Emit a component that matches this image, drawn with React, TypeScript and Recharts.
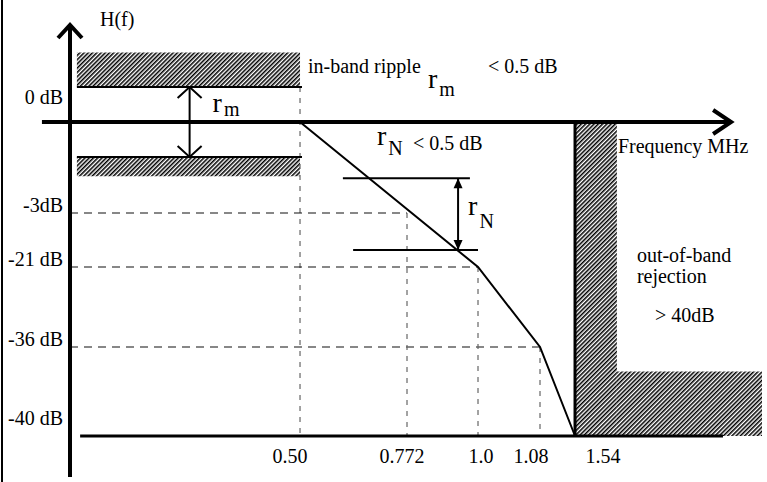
import { ComposedChart, Line, XAxis, YAxis, ReferenceArea, ReferenceLine, ReferenceDot } from 'recharts'

// frequency axis, MHz (the drawing is not to scale)
const freqTicks = [0.5, 0.772, 1.0, 1.08, 1.54]
const freqLabels = ['0.50', '0.772', '1.0', '1.08', '1.54']

// attenuation axis, dB (not to scale either)
const dbTicks = [0, -3, -21, -36, -40]
const dbLabels = ['0 dB', '-3dB', '-21 dB', '-36 dB', '-40 dB']

// corners of the filter response
const respFreq = [0.5, 1.0, 1.08, 1.54]
const respDb = [0, -21, -36, -40]

// dashed guides down from the roll-off
const kneeFreq = [0.772, 1.0, 1.08]
const kneeDb = [-3, -21, -36]

// in-band ripple mask (r_m)
const passEdge = 0.5
const rippleTop = 0.25
const rippleBottom = -0.25
const maskTop = 0.5
const maskBottom = -1.2

// r_N limits on the slope
const rnDb = [-1.3, -15.3]
const rnFrom = [0.609, 0.635]
const rnTo = [0.974, 1.0]
const rnArrowAt = 0.936

// stop band
const stopEdge = 1.54
const stopWall = 1.643
const stopShelf = -37.1
const stopFloor = -40

// where the labelled values sit along each axis (0 = plot start, 1 = plot end)
const X_STOPS = [0, 0.5, 0.772, 1.0, 1.08, 1.54, 2.0]
const X_POS = [0, 0.3324, 0.487, 0.5896, 0.6792, 0.7298, 1]
const Y_STOPS = [-42, -40, -36, -21, -3, -0.25, 0, 0.25, 0.7]
const Y_POS = [0, 0.0907, 0.2876, 0.4646, 0.5841, 0.708, 0.7854, 0.8628, 1]

const X_LABEL_DX = [-10, -5, 3, -9, 28]
const Y_LABEL_DY = [-18, -1, -1, -1, -11]

const FONT = '"Liberation Serif", "Times New Roman", serif'
const TXT = { fontFamily: FONT, fontSize: 20, fill: '#000' }

const response = respFreq.map((f, i) => ({ f, db: respDb[i] }))

// piecewise-linear scale so the schematic axes keep their drawn spacing
function schematicScale(stops: number[], pos: number[], dom?: number[], rng?: number[]): any {
  let domain = dom ?? [stops[0], stops[stops.length - 1]]
  let range = rng ?? [0, 1]
  const scale: any = (v: number) => {
    let i = 1
    while (i < stops.length - 1 && v > stops[i]) i++
    const t = (v - stops[i - 1]) / (stops[i] - stops[i - 1])
    const p = pos[i - 1] + t * (pos[i] - pos[i - 1])
    return range[0] + p * (range[1] - range[0])
  }
  scale.domain = (d?: number[]) => (d ? ((domain = d), scale) : domain)
  scale.range = (r?: number[]) => (r ? ((range = r), scale) : range)
  scale.copy = () => schematicScale(stops, pos, domain, range)
  scale.ticks = () => stops
  scale.clamp = () => scale
  scale.nice = () => scale
  return scale
}

const xScale = schematicScale(X_STOPS, X_POS)
const yScale = schematicScale(Y_STOPS, Y_POS)

function arrowShape(opts: { start?: string; end?: string; len: number; half: number; width: number }) {
  return (p: any) => {
    const { x1, y1, x2, y2 } = p
    const L = Math.hypot(x2 - x1, y2 - y1) || 1
    const ux = (x2 - x1) / L
    const uy = (y2 - y1) / L
    const head = (tx: number, ty: number, sx: number, sy: number, kind: string) => {
      const bx = tx - sx * opts.len
      const by = ty - sy * opts.len
      const px = -sy * opts.half
      const py = sx * opts.half
      const pts = `${bx + px},${by + py} ${tx},${ty} ${bx - px},${by - py}`
      return kind === 'tri' ? (
        <polygon points={pts} fill="#000" stroke="none" />
      ) : (
        <polyline points={pts} fill="none" stroke="#000" strokeWidth={opts.width} strokeLinejoin="miter" />
      )
    }
    return (
      <g>
        <line x1={x1} y1={y1} x2={x2} y2={y2} stroke="#000" strokeWidth={opts.width} />
        {opts.end && head(x2, y2, ux, uy, opts.end)}
        {opts.start && head(x1, y1, -ux, -uy, opts.start)}
      </g>
    )
  }
}

function XTick(props: any) {
  const { x, y, index } = props
  return (
    <text x={x + X_LABEL_DX[index]} y={y - 22} textAnchor="middle" {...TXT}>
      {freqLabels[index]}
    </text>
  )
}

function YTick(props: any) {
  const { x, y, index } = props
  return (
    <text x={x + 1} y={y + Y_LABEL_DY[index]} textAnchor="end" {...TXT}>
      {dbLabels[index]}
    </text>
  )
}

function SubR({ x, y, sub, drop }: { x: number; y: number; sub: string; drop: number }) {
  return (
    <text x={x} y={y} {...TXT}>
      <tspan fontSize={28}>r</tspan>
      <tspan dx={2} dy={drop}>{sub}</tspan>
    </text>
  )
}

const solid = { stroke: '#000', ifOverflow: 'visible' as const }
const hDash = { stroke: '#111', strokeWidth: 1.2, strokeDasharray: '8 6', ifOverflow: 'visible' as const }
const vDash = { stroke: '#666', strokeWidth: 1.2, strokeDasharray: '5 6', ifOverflow: 'visible' as const }
const hatch = { fill: 'url(#hatch)', fillOpacity: 1, stroke: 'none', ifOverflow: 'visible' as const }

export default function App() {
  return (
    <div style={{ position: 'absolute', left: 0, top: 0, width: 767, height: 482, background: '#fff' }}>
      <div style={{ position: 'absolute', left: 1, top: 0, width: 2, height: 482, background: '#000' }} />
      <ComposedChart width={767} height={482} data={response} margin={{ top: 25, right: 5, bottom: 0, left: 0 }}>
        <defs>
          <pattern id="hatch" width="3" height="3" patternUnits="userSpaceOnUse" patternTransform="rotate(45)">
            <line x1="0.75" y1="0" x2="0.75" y2="3" stroke="#000" strokeWidth="1.6" />
          </pattern>
        </defs>
        <XAxis
          dataKey="f"
          type="number"
          scale={xScale}
          domain={[X_STOPS[0], X_STOPS[X_STOPS.length - 1]]}
          ticks={freqTicks}
          interval={0}
          height={5}
          axisLine={false}
          tickLine={false}
          tick={<XTick />}
        />
        <YAxis
          type="number"
          scale={yScale}
          domain={[Y_STOPS[0], Y_STOPS[Y_STOPS.length - 1]]}
          ticks={dbTicks}
          interval={0}
          width={70}
          axisLine={false}
          tickLine={false}
          tick={<YTick />}
        />

        {/* hatched masks */}
        <ReferenceArea x1={0.015} x2={passEdge} y1={rippleTop} y2={maskTop} {...hatch} />
        <ReferenceArea x1={0.015} x2={passEdge} y1={maskBottom} y2={rippleBottom} {...hatch} />
        <ReferenceArea x1={stopEdge} x2={stopWall} y1={stopFloor} y2={0} {...hatch} />
        <ReferenceArea x1={stopWall} x2={X_STOPS[X_STOPS.length - 1]} y1={stopFloor} y2={stopShelf} {...hatch} />

        {/* dashed guides */}
        <ReferenceLine segment={[{ x: passEdge, y: rippleTop }, { x: passEdge, y: stopFloor }]} {...vDash} />
        {kneeFreq.map((f, i) => (
          <ReferenceLine key={'h' + i} segment={[{ x: 0, y: kneeDb[i] }, { x: f, y: kneeDb[i] }]} {...hDash} />
        ))}
        {kneeFreq.map((f, i) => (
          <ReferenceLine key={'v' + i} segment={[{ x: f, y: kneeDb[i] }, { x: f, y: stopFloor }]} {...vDash} />
        ))}

        {/* mask edges */}
        <ReferenceLine segment={[{ x: 0.015, y: rippleTop }, { x: 0.505, y: rippleTop }]} strokeWidth={2} {...solid} />
        <ReferenceLine segment={[{ x: 0.015, y: rippleBottom }, { x: 0.505, y: rippleBottom }]} strokeWidth={2} {...solid} />
        <ReferenceLine segment={[{ x: stopEdge, y: 0 }, { x: stopEdge, y: stopFloor }]} strokeWidth={3} {...solid} />
        <ReferenceLine segment={[{ x: 0.022, y: stopFloor }, { x: 1.904, y: stopFloor }]} strokeWidth={3} {...solid} />
        {rnDb.map((d, i) => (
          <ReferenceLine key={'rn' + i} segment={[{ x: rnFrom[i], y: d }, { x: rnTo[i], y: d }]} strokeWidth={2} {...solid} />
        ))}

        {/* axes with arrow heads */}
        <ReferenceLine
          segment={[{ x: 0, y: Y_STOPS[0] }, { x: 0, y: Y_STOPS[Y_STOPS.length - 1] }]}
          ifOverflow="visible"
          shape={arrowShape({ end: 'chevron', len: 13, half: 12, width: 4 })}
        />
        <ReferenceLine
          segment={[{ x: -0.061, y: 0 }, { x: 1.924, y: 0 }]}
          ifOverflow="visible"
          shape={arrowShape({ end: 'chevron', len: 18, half: 12, width: 4 })}
        />

        {/* r_m and r_N measures */}
        <ReferenceLine
          segment={[{ x: 0.26, y: rippleBottom }, { x: 0.26, y: rippleTop }]}
          ifOverflow="visible"
          shape={arrowShape({ start: 'chevron', end: 'chevron', len: 11, half: 12, width: 2 })}
        />
        <ReferenceLine
          segment={[{ x: rnArrowAt, y: rnDb[1] }, { x: rnArrowAt, y: rnDb[0] }]}
          ifOverflow="visible"
          shape={arrowShape({ start: 'tri', end: 'tri', len: 10, half: 4.5, width: 2 })}
        />

        <Line dataKey="db" type="linear" stroke="#000" strokeWidth={2} dot={false} isAnimationActive={false} />

        {/* text notes */}
        <ReferenceDot x={0} y={Y_STOPS[Y_STOPS.length - 1]} r={0} ifOverflow="visible"
          shape={(p: any) => <text x={p.cx + 30} y={p.cy + 1} {...TXT}>H(f)</text>} />
        <ReferenceDot x={passEdge} y={maskTop} r={0} ifOverflow="visible"
          shape={(p: any) => (
            <g>
              <text x={p.cx + 8} y={p.cy + 20} {...TXT}>in-band ripple</text>
              <SubR x={p.cx + 128} y={p.cy + 35} sub="m" drop={8} />
              <text x={p.cx + 188} y={p.cy + 20} {...TXT}>&lt; 0.5 dB</text>
            </g>
          )} />
        <ReferenceDot x={0.26} y={0} r={0} ifOverflow="visible"
          shape={(p: any) => <SubR x={p.cx + 23} y={p.cy - 10} sub="m" drop={4} />} />
        <ReferenceDot x={0.772} y={0} r={0} ifOverflow="visible"
          shape={(p: any) => (
            <g>
              <SubR x={p.cx - 30} y={p.cy + 23} sub="N" drop={10} />
              <text x={p.cx + 6} y={p.cy + 28} {...TXT}>&lt; 0.5 dB</text>
            </g>
          )} />
        <ReferenceDot x={rnArrowAt} y={rnDb[0]} r={0} ifOverflow="visible"
          shape={(p: any) => <SubR x={p.cx + 10} y={p.cy + 37} sub="N" drop={13} />} />
        <ReferenceDot x={stopWall} y={0} r={0} ifOverflow="visible"
          shape={(p: any) => <text x={p.cx + 1} y={p.cy + 31} {...TXT}>Frequency MHz</text>} />
        <ReferenceDot x={stopWall} y={-21} r={0} ifOverflow="visible"
          shape={(p: any) => (
            <g>
              <text x={p.cx + 20} y={p.cy - 5} {...TXT}>out-of-band</text>
              <text x={p.cx + 20} y={p.cy + 16} {...TXT}>rejection</text>
              <text x={p.cx + 38} y={p.cy + 55} {...TXT}>&gt; 40dB</text>
            </g>
          )} />
      </ComposedChart>
    </div>
  )
}
